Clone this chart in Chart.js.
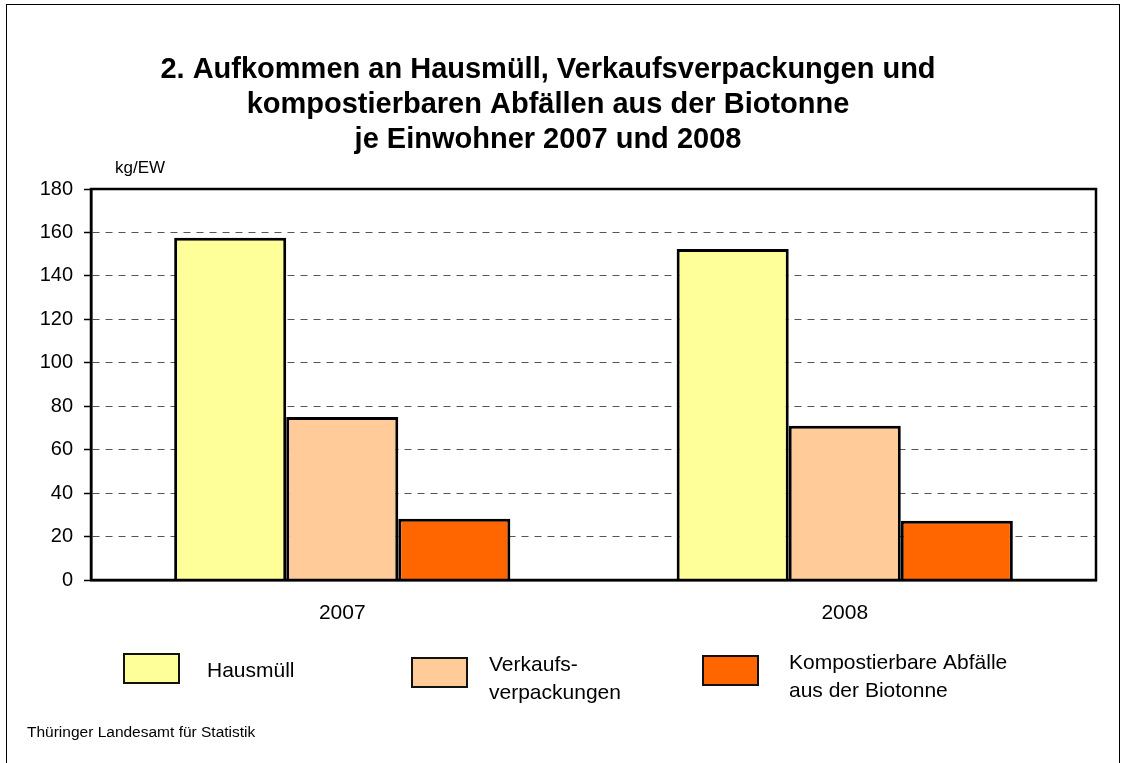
<!DOCTYPE html>
<html lang="de">
<head>
    <meta charset="UTF-8">
    <title>Aufkommen an Hausmüll, Verkaufsverpackungen und Biotonne je Einwohner</title>
    <script src="https://cdn.jsdelivr.net/npm/chart.js"></script>
    <style>
        html, body {
            margin: 0;
            background: #ffffff;
            overflow: hidden;
        }

        #frame {
            position: absolute;
            left: 6px;
            top: 4px;
            width: 1114px;
            height: 790px;
            border: 1px solid #000;
            box-sizing: border-box;
        }

        #wrap {
            position: absolute;
            left: 0;
            top: 0;
            width: 1124px;
            height: 763px;
        }
    </style>
</head>
<body>
    <div id="frame"></div>
    <div id="wrap"><canvas id="myChart" width="1124" height="763"></canvas></div>

    <script>
        // Werte in kg je Einwohner
        var years = ['2007', '2008'];
        var hausmuell = [157.6, 152.4];
        var verkaufsverpackungen = [75.0, 71.0];
        var biotonne = [28.2, 27.3];

        var seriesNames = ['Hausmüll', 'Verkaufsverpackungen', 'Kompostierbare Abfälle aus der Biotonne'];
        var legendLines = [['Hausmüll'], ['Verkaufs-', 'verpackungen'], ['Kompostierbare Abfälle', 'aus der Biotonne']];
        var seriesColors = ['#FFFF99', '#FFCC99', '#FF6600'];

        var titleLines = [
            '2. Aufkommen an Hausmüll, Verkaufsverpackungen und',
            'kompostierbaren Abfällen aus der Biotonne',
            'je Einwohner 2007 und 2008'
        ];
        var unitLabel = 'kg/EW';
        var sourceText = 'Thüringer Landesamt für Statistik';
        var yMin = 0, yMax = 180, yStep = 20;

        var FONT = "'Liberation Sans', Arial, sans-serif";
        Chart.defaults.font.family = FONT;
        Chart.defaults.color = '#000';

        // Rahmen um die Zeichenfläche, Einheit, Legende und Quelle
        var extras = {
            id: 'extras',
            afterDraw: function (chart) {
                var ctx = chart.ctx;
                var ca = chart.chartArea;
                ctx.save();
                ctx.strokeStyle = '#000';
                ctx.lineWidth = 2.5;
                ctx.strokeRect(ca.left, ca.top, ca.right - ca.left, ca.bottom - ca.top);

                ctx.fillStyle = '#000';
                ctx.textAlign = 'left';
                ctx.textBaseline = 'alphabetic';
                ctx.font = '17px ' + FONT;
                ctx.fillText(unitLabel, 115, 173);

                var boxX = [124, 412, 703];
                var boxY = [654, 658, 656];
                var textX = [207, 489, 789];
                var textY = [677, 671, 669];
                ctx.font = '21px ' + FONT;
                chart.data.datasets.forEach(function (ds, i) {
                    ctx.fillStyle = ds.backgroundColor;
                    ctx.fillRect(boxX[i], boxY[i], 55, 29);
                    ctx.lineWidth = 2;
                    ctx.strokeStyle = '#111';
                    ctx.strokeRect(boxX[i], boxY[i], 55, 29);
                    ctx.fillStyle = '#000';
                    legendLines[i].forEach(function (line, j) {
                        ctx.fillText(line, textX[i], textY[i] + j * 28);
                    });
                });

                ctx.font = '15.5px ' + FONT;
                ctx.fillText(sourceText, 27, 737);
                ctx.restore();
            }
        };

        var ctx = document.getElementById('myChart').getContext('2d');
        var myChart = new Chart(ctx, {
            type: 'bar',
            data: {
                labels: years,
                datasets: [
                    { label: seriesNames[0], data: hausmuell, backgroundColor: seriesColors[0] },
                    { label: seriesNames[1], data: verkaufsverpackungen, backgroundColor: seriesColors[1] },
                    { label: seriesNames[2], data: biotonne, backgroundColor: seriesColors[2] }
                ]
            },
            options: {
                responsive: false,
                animation: false,
                layout: {
                    padding: { left: 0, top: 0, right: 28, bottom: 133 }
                },
                datasets: {
                    bar: {
                        borderColor: '#000',
                        borderWidth: 3,
                        categoryPercentage: 0.669,
                        barPercentage: 1
                    }
                },
                plugins: {
                    legend: { display: false },
                    tooltip: { enabled: false },
                    title: {
                        display: true,
                        text: titleLines,
                        color: '#000',
                        font: { size: 29, weight: 'bold', lineHeight: 1.207 },
                        padding: { top: 52.5, bottom: 31.5 }
                    }
                },
                scales: {
                    x: {
                        grid: { display: false, drawTicks: false },
                        border: { display: true, color: '#000', width: 2.5 },
                        ticks: { font: { size: 21 }, padding: 21, color: '#000' },
                        afterFit: function (scale) { scale.height = 50; }
                    },
                    y: {
                        min: yMin,
                        max: yMax,
                        ticks: { stepSize: yStep, font: { size: 20 }, padding: 11, color: '#000' },
                        grid: {
                            color: function (c) {
                                var v = c.tick ? c.tick.value : null;
                                return (v === yMin || v === yMax) ? 'rgba(0,0,0,0)' : '#555';
                            },
                            lineWidth: 1,
                            tickLength: 7,
                            tickColor: '#000',
                            tickWidth: 1.5,
                            tickBorderDash: []
                        },
                        border: { display: true, color: '#000', width: 2.5, dash: [7, 6] },
                        afterFit: function (scale) { scale.width = 91; }
                    }
                }
            },
            plugins: [extras]
        });
    </script>
</body>
</html>
